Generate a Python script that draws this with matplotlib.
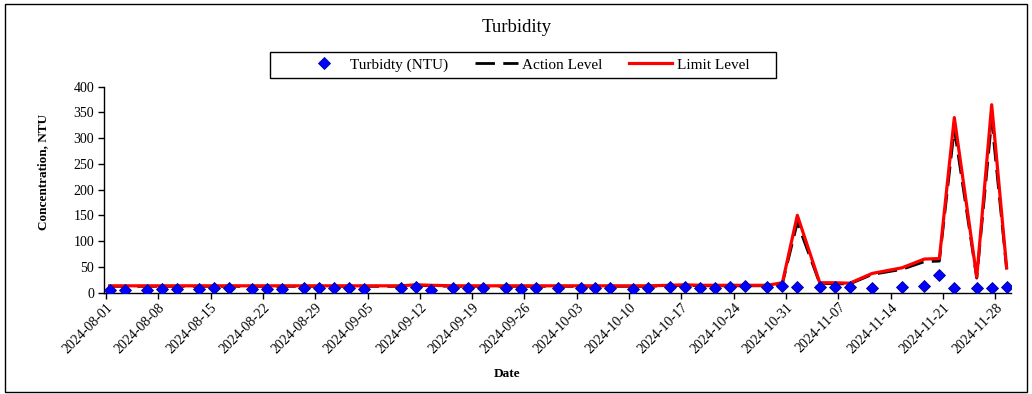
import matplotlib
matplotlib.use("Agg")
import matplotlib.pyplot as plt
import matplotlib.dates as mdates
from matplotlib.patches import Rectangle
import numpy as np
import pandas as pd

plt.rcParams['font.family'] = ['Liberation Serif', 'DejaVu Serif']

# sampling dates
dates = ["2024-08-01", "2024-08-03", "2024-08-06", "2024-08-08", "2024-08-10",
         "2024-08-13", "2024-08-15", "2024-08-17", "2024-08-20", "2024-08-22",
         "2024-08-24", "2024-08-27", "2024-08-29", "2024-08-31", "2024-09-02",
         "2024-09-04", "2024-09-09", "2024-09-11", "2024-09-13", "2024-09-16",
         "2024-09-18", "2024-09-20", "2024-09-23", "2024-09-25", "2024-09-27",
         "2024-09-30", "2024-10-03", "2024-10-05", "2024-10-07", "2024-10-10",
         "2024-10-12", "2024-10-15", "2024-10-17", "2024-10-19", "2024-10-21",
         "2024-10-23", "2024-10-25", "2024-10-28", "2024-10-30", "2024-11-01",
         "2024-11-04", "2024-11-06", "2024-11-08", "2024-11-11", "2024-11-15",
         "2024-11-18", "2024-11-20", "2024-11-22", "2024-11-25", "2024-11-27",
         "2024-11-29"]

# measured turbidity (NTU)
turbidity = [5.5, 5.5, 5.5, 6, 6, 6, 8.5, 8.5, 6.5, 6,
             7, 8.5, 8.5, 8.5, 8.5, 6.5, 8.5, 11.5, 5.5, 8.5,
             8.5, 8.5, 8.5, 6.5, 8.5, 8.5, 8.5, 8.5, 8.5, 7,
             8.5, 10, 11.5, 9.5, 8.5, 11.5, 12.5, 10.5, 12.8, 11.5,
             10, 10, 10, 9.5, 11.5, 12.8, 34, 9.5, 9.5, 8,
             11.5]

# action level
action_level = [12, 12, 12, 12, 12, 12, 12, 12, 12, 12,
                12, 12, 12, 12, 12, 12, 12, 14, 13, 12,
                12, 12, 12, 12, 12, 12, 12, 12, 12, 12,
                12, 13, 14, 13, 13, 13, 13, 13, 17, 136,
                17.5, 17, 16.5, 35, 45, 60, 61, 318, 28, 335,
                45]

# limit level
limit_level = [13, 13, 13, 13, 13, 13, 13, 13, 13, 13,
               13, 13, 13, 13, 13, 13, 13, 15, 14, 13,
               13, 13, 13, 13, 13, 13, 13, 13, 13, 13,
               13, 14, 15, 14, 14, 14, 14, 14, 19, 150,
               19, 19, 18, 37, 48, 65, 66, 340, 30, 365,
               48]

x = pd.to_datetime(dates) + pd.Timedelta(hours=12)  # points sit between day ticks

fig = plt.figure(figsize=(10.32, 3.94), dpi=100)
ax = fig.add_axes([104 / 1032, 1 - 292.5 / 394, 907 / 1032, 205.8 / 394])

ax.plot(x, action_level, color='black', lw=2, dashes=(7, 3), label='Action Level', zorder=2)
ax.plot(x, limit_level, color='#ff0000', lw=2.3, label='Limit Level', zorder=3)
ax.plot(x, turbidity, linestyle='none', marker='D', ms=6, mfc='#0000ff', mec='#000099',
        mew=0.6, label='Turbidty (NTU)', zorder=4)

ax.set_ylim(0, 400)
ax.set_yticks(np.arange(0, 401, 50))
ax.set_xlim(pd.Timestamp("2024-07-31 18:00"), pd.Timestamp("2024-11-30 02:00"))
ax.set_xticks(pd.date_range("2024-08-01", "2024-11-28", freq="7D"))
ax.xaxis.set_major_formatter(mdates.DateFormatter('%Y-%m-%d'))
plt.setp(ax.get_xticklabels(), rotation=45, ha='right', rotation_mode='anchor')

ax.tick_params(axis='both', direction='out', length=4, width=1, labelsize=10, colors='black')
ax.tick_params(axis='y', pad=3)
ax.tick_params(axis='x', pad=2)
for s in ['top', 'right']:
    ax.spines[s].set_visible(False)
for s in ['left', 'bottom']:
    ax.spines[s].set_linewidth(1)

ax.set_ylabel('Concentration, NTU', fontsize=9.5, fontweight='bold')
ax.yaxis.set_label_coords(-0.060, 0.585)
ax.set_xlabel('Date', fontsize=9.5, fontweight='bold')
ax.xaxis.set_label_coords(0.444, -0.367)

fig.text(517 / 1032, 1 - 27 / 394, 'Turbidity', ha='center', va='center', fontsize=13.5)

# legend without its own frame, box drawn separately to get Excel-like padding
h, l = ax.get_legend_handles_labels()
order = [2, 0, 1]
leg = fig.legend([h[i] for i in order], [l[i] for i in order], loc='center',
                 bbox_to_anchor=(526 / 1032, 1 - 65 / 394), ncol=3, fontsize=11,
                 frameon=False, handlelength=2.8, columnspacing=1.75,
                 handletextpad=0.3, borderpad=0.2)
fig.patches.append(Rectangle((270 / 1032, 1 - 78.3 / 394), 506 / 1032, 26.6 / 394,
                             transform=fig.transFigure, fill=False, edgecolor='black', lw=1))

# outer chart border
fig.patches.append(Rectangle((5 / 1032, 2 / 394), 1022 / 1032, 388 / 394,
                             transform=fig.transFigure, fill=False, edgecolor='black', lw=1))

fig.savefig('out.png', dpi=100)
